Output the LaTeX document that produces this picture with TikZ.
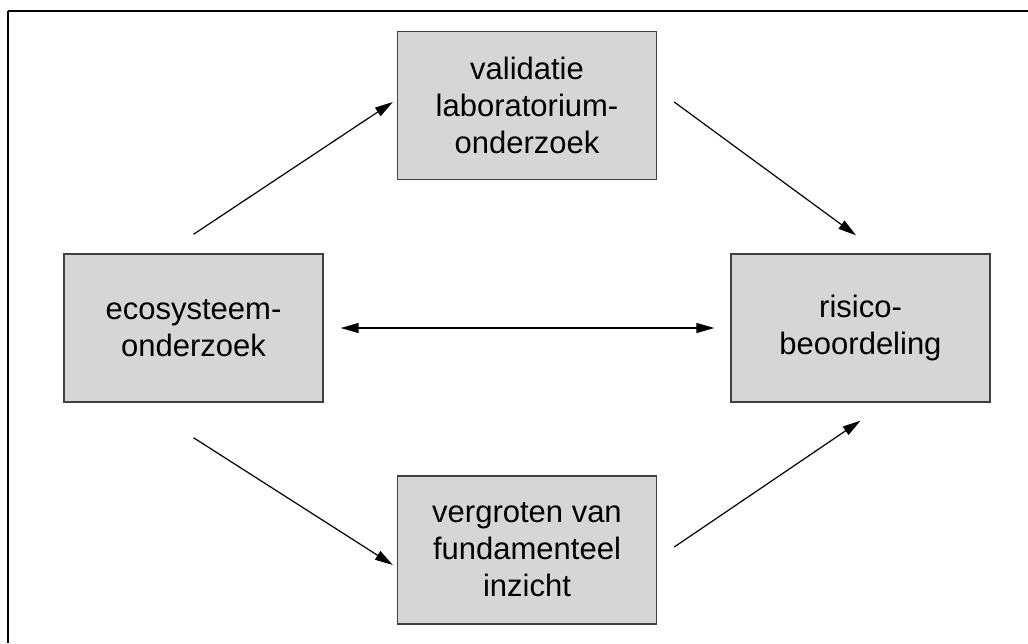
\documentclass[tikz,border=0pt]{standalone}
\usepackage{fontspec}
\setmainfont{Liberation Sans}
\usetikzlibrary{arrows.meta,positioning}
\definecolor{boxfill}{HTML}{D6D6D6}
\definecolor{boxline}{HTML}{404040}

\begin{document}
\begin{tikzpicture}[
  x=1pt, y=-1pt,
  blok/.style={draw=boxline, line width=1.4pt, fill=boxfill,
    minimum width=259pt, minimum height=148pt, inner sep=0pt,
    align=center, font=\fontsize{31}{37}\selectfont},
  pijl/.style={line width=1.2pt, -{Triangle[length=18pt,width=10pt]}},
  dpijl/.style={line width=1.2pt, {Triangle[length=18pt,width=10pt]}-{Triangle[length=18pt,width=10pt]}}
  ]
  \useasboundingbox (0,0) rectangle (1028,643);
  % frame
  \draw[line width=1.6pt] (8,11) -- (1028,11);
  \draw[line width=1.6pt] (8,11) -- (8,643);

  \node[blok] (eco) at (193.5,328) {ecosysteem-\\onderzoek};
  \node[blok] (val) at (527,105.5) {validatie\\laboratorium-\\onderzoek};
  \node[blok] (ris) at (860.5,328) {risico-\\beoordeling};
  \node[blok] (fund) at (527,550) {vergroten van\\fundamenteel\\inzicht};

  \draw[pijl] ([yshift=19pt]eco.north) -- ([shift={(-4pt,3.5pt)}]val.west);
  \draw[pijl] ([shift={(17pt,3.5pt)}]val.east) -- ([shift={(-4.5pt,18pt)}]ris.north);
  \draw[dpijl] ([xshift=17pt]eco.east) -- ([xshift=-16pt]ris.west);
  \draw[pijl] ([yshift=-35pt]eco.south) -- ([shift={(-4pt,-15pt)}]fund.west);
  \draw[pijl] ([shift={(17pt,3pt)}]fund.east) -- ([yshift=-18pt]ris.south);
\end{tikzpicture}
\end{document}
